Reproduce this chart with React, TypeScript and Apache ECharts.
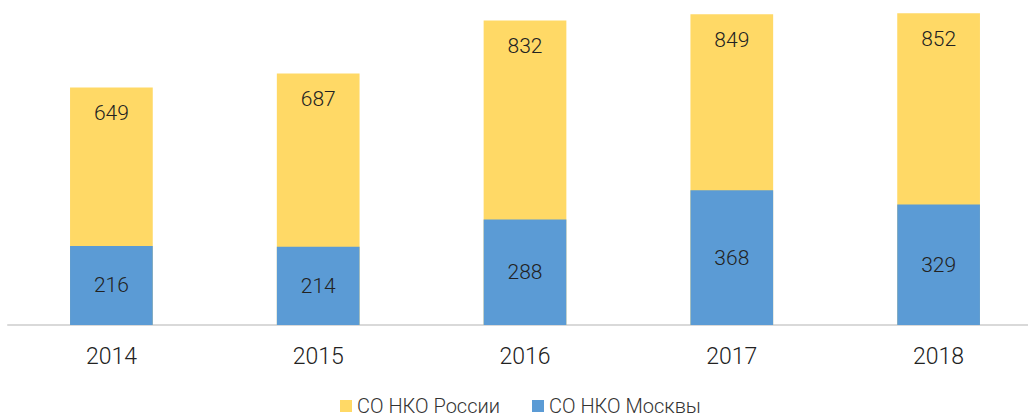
import React, { useEffect, useRef } from "react";
import * as echarts from "echarts";

const categories = ["2014", "2015", "2016", "2017", "2018"];
const russiaValues = [649, 687, 832, 849, 852];
const moscowValues = [216, 214, 288, 368, 329];
const seriesNames = ["СО НКО России", "СО НКО Москвы"];

const FONT = "Roboto, 'Liberation Sans', Arial, sans-serif";

export default function App() {
  const ref = useRef<HTMLDivElement>(null);
  useEffect(() => {
    if (!ref.current) return;
    const chart = echarts.init(ref.current, undefined, { renderer: "svg" });
    chart.setOption({
      animation: false,
      backgroundColor: "#ffffff",
      textStyle: { fontFamily: FONT },
      grid: { left: 8, top: 0, width: 1034, height: 325, outerBoundsMode: "none", containLabel: false },
      legend: {
        data: seriesNames,
        left: 340,
        top: 396,
        padding: 0,
        itemWidth: 12,
        itemHeight: 12,
        itemGap: 32,
        icon: "rect",
        textStyle: { fontSize: 20, lineHeight: 18, color: "#333", fontFamily: FONT, fontWeight: 300 },
      },
      xAxis: {
        type: "category",
        data: categories,
        axisLine: { show: true, lineStyle: { color: "#D9D9D9", width: 2 } },
        axisTick: { show: false },
        axisLabel: { fontSize: 23, color: "#222", margin: 20, fontFamily: FONT, fontWeight: 300 },
      },
      yAxis: {
        type: "value",
        min: 0,
        max: 888,
        show: false,
        splitLine: { show: false },
      },
      series: [
        {
          name: seriesNames[0],
          type: "bar",
          data: russiaValues,
          barWidth: "40%",
          barGap: "-100%",
          itemStyle: { color: "#FFD966" },
          label: {
            show: true,
            position: "insideTop",
            distance: 15,
            fontSize: 21,
            color: "#222",
            fontFamily: FONT,
            fontWeight: 300,
          },
        },
        {
          name: seriesNames[1],
          type: "bar",
          data: moscowValues,
          barWidth: "40%",
          barGap: "-100%",
          itemStyle: { color: "#5B9BD5" },
          label: {
            show: true,
            position: "inside",
            fontSize: 21,
            color: "#222",
            fontFamily: FONT,
            fontWeight: 300,
          },
        },
      ],
    });
    return () => chart.dispose();
  }, []);
  return (
    <div
      ref={ref}
      style={{ position: "fixed", left: 0, top: 0, width: 1028, height: 417 }}
    />
  );
}
